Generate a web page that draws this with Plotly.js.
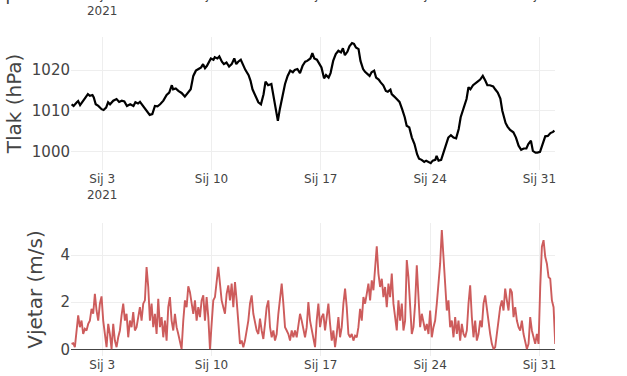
<!DOCTYPE html>
<html>
<head>
<meta charset="utf-8">
<script src="https://cdn.plot.ly/plotly-3.0.1.min.js"></script>
<style>
  html, body { margin: 0; padding: 0; overflow: hidden; background: #fff; }
  #chart { position: absolute; left: 0; top: -220px; width: 627px; height: 596px; }
</style>
</head>
<body>
<div id="chart"></div>
<script>
// ---- data ----
// pressure: hours since 2021-01-01 00:00 and values in hPa
const pressureHours = [1,4,9,11,14,19,24,26,29,33,35,38,42,47,50,54,57,60,65,70,
  74,78,82,86,91,96,99,103,106,111,116,121,125,129,133,137,142,147,151,155,
  157,161,165,170,175,180,184,188,192,196,200,203,206,209,212,215,219,221,225,228,
  232,235,239,243,247,251,254,257,261,264,268,273,276,279,283,288,292,296,299,303,
  308,311,315,318,321,325,329,333,337,341,344,348,352,356,360,363,368,371,374,378,
  381,385,389,392,396,399,403,407,411,415,418,421,425,428,432,435,438,442,445,449,
  452,456,459,462,466,469,473,476,480,484,487,491,493,497,501,505,509,513,516,520,
  524,528,532,535,539,543,546,550,553,556,560,562,565,569,573,577,580,584,588,592,
  596,599,603,608,611,614,618,621,625,629,633,637,640,644,649,652,656,660,663,668,
  671,675,680,684,688,692,696,700,703,707,710,714,717,721,725,729,733,737,741,743];
const pressureHpa = [1011.6,1011.2,1012.1,1012.4,1011.4,1012.5,1013.7,1014.1,1013.7,1013.9,
  1013.3,1011.6,1011.2,1010.4,1010.2,1010.8,1012.1,1011.6,1012.5,1012.9,
  1012.2,1012.5,1012.3,1011.2,1011.6,1011.2,1012.1,1011.8,1012.2,1011.2,
  1010.0,1009.0,1009.2,1011.2,1011.1,1011.6,1012.5,1013.9,1014.5,1016.3,
  1015.3,1015.5,1014.9,1014.4,1013.5,1014.4,1015.3,1018.6,1019.9,1020.3,
  1020.7,1021.5,1020.5,1021.1,1022.1,1022.9,1022.6,1023.2,1022.9,1023.4,
  1022.1,1021.5,1021.9,1020.9,1021.5,1022.9,1021.5,1022.1,1022.6,1021.5,
  1020.1,1018.8,1017.4,1015.3,1013.9,1012.1,1011.6,1014.1,1017.2,1016.3,
  1016.6,1013.7,1010.4,1007.5,1010.4,1013.7,1016.6,1018.6,1019.9,1019.5,
  1020.1,1020.3,1019.3,1021.1,1022.1,1022.3,1022.9,1024.2,1022.9,1022.6,
  1021.9,1020.7,1018.0,1018.8,1018.2,1019.3,1022.3,1024.0,1024.8,1024.4,
  1025.4,1023.7,1024.6,1025.9,1026.7,1026.5,1025.6,1025.2,1022.3,1020.3,
  1019.6,1019.1,1018.6,1019.5,1019.9,1018.2,1017.7,1017.0,1016.3,1014.9,
  1014.7,1015.2,1014.1,1013.5,1012.9,1012.2,1010.4,1008.4,1006.3,1005.9,
  1003.4,1001.8,999.3,998.2,997.9,997.4,997.7,997.4,997.1,997.7,
  997.9,998.9,997.7,997.9,1000.1,1002.2,1003.4,1004.0,1003.4,1003.2,
  1005.5,1008.4,1010.4,1012.9,1015.8,1015.3,1016.3,1016.6,1017.2,1017.7,
  1018.6,1017.4,1016.3,1016.3,1016.0,1015.3,1014.5,1013.0,1010.0,1007.0,
  1006.1,1005.3,1004.7,1003.4,1001.4,1000.4,1000.7,1000.7,1001.8,1002.6,
  1000.1,999.7,999.7,999.9,1001.8,1003.7,1003.8,1004.5,1004.8,1005.1];

// wind: regular samples starting windStartHour, every windStepHours (m/s)
const windStartHour = 0.8;
const windStepHours = 2.564;
const windMs = [0.23,0.26,0.09,0.80,1.44,0.94,1.22,0.65,0.87,0.80,
  1.08,1.22,1.72,1.51,2.36,1.65,1.22,1.94,2.25,1.22,
  0.51,0.09,1.08,0.65,0.01,1.08,0.37,0.09,0.51,0.80,
  1.44,1.94,1.22,1.51,0.51,1.22,0.94,1.58,0.80,0.94,
  1.37,1.79,1.22,1.94,2.08,3.50,2.65,1.22,1.94,0.94,
  1.51,0.65,2.15,0.94,1.37,0.51,1.22,0.37,1.79,2.22,
  1.22,0.80,1.51,0.94,0.65,0.37,0.01,1.22,2.08,1.79,
  2.68,2.43,1.94,1.51,2.08,1.22,1.79,1.37,2.08,2.29,
  1.22,2.22,1.37,0.01,1.08,2.08,2.22,2.93,3.50,2.79,
  2.08,1.79,1.51,2.36,2.72,2.08,2.79,1.79,2.86,2.08,
  1.08,0.23,0.37,0.09,0.37,0.80,1.22,1.94,2.29,1.51,
  1.22,0.80,0.65,1.30,0.80,0.44,1.08,1.79,2.08,0.94,
  0.51,0.80,0.37,0.65,1.51,2.22,2.79,1.94,0.94,0.80,
  0.65,0.37,0.80,0.51,0.80,0.51,0.94,1.51,1.22,0.80,
  0.51,0.94,2.01,1.22,0.80,0.51,0.09,1.22,1.94,0.94,
  1.37,1.51,0.80,1.37,1.94,1.08,0.37,0.80,0.09,0.65,
  1.37,0.51,0.94,1.94,2.58,1.79,0.65,0.51,0.65,0.37,
  0.58,0.51,0.94,1.72,1.22,2.22,1.94,2.36,2.79,2.08,
  2.93,2.51,3.29,4.38,3.22,2.65,3.00,2.22,2.65,1.79,
  2.79,2.22,3.22,1.94,1.37,0.80,2.08,1.22,1.94,0.80,
  1.22,3.79,3.07,1.51,0.65,0.94,1.94,3.57,1.94,0.94,
  1.51,1.22,0.80,1.08,0.65,1.65,0.51,0.94,1.22,1.94,
  2.65,3.64,5.07,3.79,2.65,1.65,2.08,0.94,1.22,0.51,
  1.37,0.65,1.22,0.37,1.08,0.65,0.51,0.80,1.94,2.72,
  1.37,0.51,1.22,0.37,0.65,1.22,0.94,1.94,2.29,1.65,
  1.22,0.65,0.23,0.01,0.09,0.80,1.22,1.79,2.08,1.65,
  2.58,2.08,1.65,2.58,2.43,1.37,1.79,1.22,0.94,0.80,
  1.22,0.65,0.37,0.01,0.23,1.37,0.80,0.51,0.23,0.65,
  0.23,2.65,4.36,4.64,3.93,3.64,3.07,3.00,2.08,1.79,
  0.23];

// axis ticks
const tickDates = ['2021-01-03','2021-01-10','2021-01-17','2021-01-24','2021-01-31'];
const tickLabels = ['Sij 3<br>2021','Sij 10','Sij 17','Sij 24','Sij 31'];
const xRange = ['2021-01-01 00:00:00','2021-02-01 00:00:00'];

// ---- helpers ----
const t0 = Date.UTC(2021, 0, 1);
function hourToDate(h) {
  return new Date(t0 + h * 3600e3).toISOString().slice(0, 19).replace('T', ' ');
}
const pressureX = pressureHours.map(hourToDate);
const windX = windMs.map((_, i) => hourToDate(windStartHour + i * windStepHours));

const FONT = 'DejaVu Sans, Verdana, sans-serif';
const TXT = '#444';

const traces = [
  { x: [], y: [], type: 'scatter', mode: 'lines', xaxis: 'x3', yaxis: 'y3',
    showlegend: false, hoverinfo: 'skip' },
  { x: pressureX, y: pressureHpa, type: 'scatter', mode: 'lines', xaxis: 'x2', yaxis: 'y2',
    line: { color: '#000000', width: 2.2 }, showlegend: false, hoverinfo: 'x+y' },
  { x: windX, y: windMs, type: 'scatter', mode: 'lines', xaxis: 'x', yaxis: 'y',
    line: { color: '#cd5c5c', width: 1.9 }, showlegend: false, hoverinfo: 'x+y' }
];

function xax(anchor) {
  return { anchor: anchor, type: 'date', range: xRange, tickmode: 'array',
    tickvals: tickDates, ticktext: tickLabels, showgrid: true, gridcolor: '#eee',
    zeroline: false, showline: false, ticks: '', tickfont: { family: FONT, size: 12, color: TXT } };
}
function yax(anchor, domain, range, dtick, title, zeroline) {
  return { anchor: anchor, domain: domain, range: range, dtick: dtick, tick0: 0,
    showgrid: true, gridcolor: '#eee', zeroline: zeroline, zerolinecolor: '#444', zerolinewidth: 1,
    showline: false, ticks: '', tickfont: { family: FONT, size: 15, color: TXT },
    title: { text: title, font: { family: FONT, size: 20, color: TXT } } };
}

const windAxis = yax('x', [0, 0.2529], [-0.285, 5.37], 2, 'Vjetar (m/s)', true);
windAxis.title.standoff = 12;

const layout = {
  width: 627, height: 596,
  margin: { l: 71, r: 72, t: 50, b: 20 },
  paper_bgcolor: '#ffffff', plot_bgcolor: '#ffffff',
  font: { family: FONT, color: TXT },
  showlegend: false,
  xaxis: xax('y'),
  yaxis: windAxis,
  xaxis2: xax('y2'),
  yaxis2: yax('x2', [0.3536, 0.6065], [995.4, 1028.2], 10, 'Tlak (hPa)', false),
  xaxis3: xax('y3'),
  yaxis3: yax('x3', [0.7034, 0.9639], [-9, 6], 2.5, 'Temperatura (°C)', true)
};

Plotly.newPlot('chart', traces, layout, { displayModeBar: false, staticPlot: true });
</script>
</body>
</html>
